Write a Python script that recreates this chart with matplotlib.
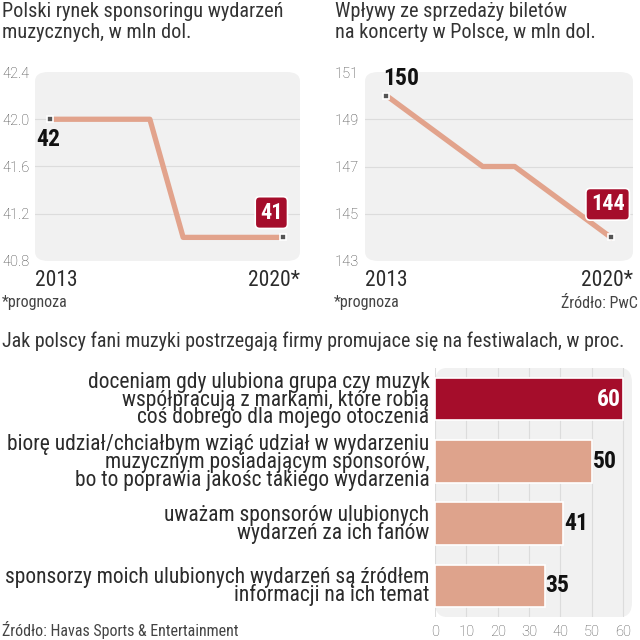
import matplotlib
matplotlib.use("Agg")
import matplotlib.pyplot as plt
from matplotlib.patches import FancyBboxPatch
import numpy as np

# data
years = [2013, 2014, 2015, 2016, 2017, 2018, 2019, 2020]
sponsoring = [42, 42, 42, 42, 41, 41, 41, 41]
tickets = [150, 149, 148, 147, 147, 146, 145, 144]

spons_ticks = [40.8, 41.2, 41.6, 42.0, 42.4]
ticket_ticks = [143, 145, 147, 149, 151]

bar_labels = [
    "doceniam gdy ulubiona grupa czy muzyk\nwspółpracują z markami, które robią\ncoś dobrego dla mojego otoczenia",
    "biorę udział/chciałbym wziąć udział w wydarzeniu\nmuzycznym posiadającym sponsorów,\nbo to poprawia jakośc takiego wydarzenia",
    "uważam sponsorów ulubionych\nwydarzeń za ich fanów",
    "sponsorzy moich ulubionych wydarzeń są źródłem\ninformacji na ich temat",
]
bar_values = [60, 50, 41, 35]
bar_ticks = [0, 10, 20, 30, 40, 50, 60]

RED = "#a50d2b"
SALMON = "#dea38c"
LINE = "#e2a38c"
BG = "#f1f1f1"
GRID = "#dcdcdc"
TXT = "#2b2b2b"

NARROW = ["Roboto Condensed", "DejaVu Sans"]
PLAIN = ["Roboto", "DejaVu Sans"]

fig = plt.figure(figsize=(6.4, 6.4), dpi=100)
W = H = 640.0


def ax_px(x0, y0, x1, y1):
    return fig.add_axes([x0 / W, 1 - y1 / H, (x1 - x0) / W, (y1 - y0) / H])


def rounded_bg(ax, r=0.05):
    bg = FancyBboxPatch((0, 0), 1, 1, boxstyle=f"round,pad=0,rounding_size={r}",
                        transform=ax.transAxes, facecolor=BG, edgecolor="none",
                        zorder=0, clip_on=False)
    ax.add_patch(bg)


def line_panel(box, values, ticks, title, xlim, lbl_x):
    ax = ax_px(*box)
    ax.set_facecolor("none")
    rounded_bg(ax)
    for t in ticks[1:-1]:
        ax.axhline(t, color=GRID, lw=0.8, zorder=1)
    ax.plot(years, values, color=LINE, lw=3.8, zorder=2)
    ax.plot([years[0], years[-1]], [values[0], values[-1]], ls="none", marker="s",
            ms=5, mfc="#555555", mec="white", mew=1.2, zorder=3)
    ax.set_xlim(*xlim)
    ax.set_ylim(ticks[0], ticks[-1])
    ax.set_yticks(ticks)
    ax.set_yticklabels([str(t) for t in ticks], fontsize=10.5, color="#444444",
                       family=PLAIN, fontweight="light")
    for lb in ax.get_yticklabels():
        lb.set_ha("left")
    ax.tick_params(axis="y", length=0, pad=(box[0] - lbl_x) * 0.72)
    ax.set_xticks([])
    for s in ax.spines.values():
        s.set_visible(False)
    ax.text(0, -0.045, "2013", transform=ax.transAxes, ha="left", va="top",
            fontsize=15.5, family=NARROW, color=TXT)
    ax.text(1, -0.045, "2020*", transform=ax.transAxes, ha="right", va="top",
            fontsize=15.5, family=NARROW, color=TXT)
    fig.text(lbl_x / W, 1 - 2 / H, title, ha="left", va="top", fontsize=14.6,
             family=NARROW, color="#333333", linespacing=1.15)
    return ax


# left line chart
ax1 = line_panel((35, 72, 300, 261), sponsoring, spons_ticks,
                 "Polski rynek sponsoringu wydarzeń\nmuzycznych, w mln dol.",
                 (2012.55, 2020.51), 2)
ax1.text(years[0] - 0.05, sponsoring[0] - 0.07, "42", ha="center", va="top", fontsize=17,
         fontweight="bold", family=NARROW, color="#111111")
ax1.text(years[-1] - 0.35, sponsoring[-1] + 0.21, "41", ha="center", va="center",
         fontsize=16, fontweight="bold", family=NARROW, color="white", zorder=5,
         bbox=dict(boxstyle="round,pad=0.22,rounding_size=0.2", fc=RED, ec="white", lw=1.2))

# right line chart
ax2 = line_panel((365, 72, 633, 261), tickets, ticket_ticks,
                 "Wpływy ze sprzedaży biletów\nna koncerty w Polsce, w mln dol.",
                 (2012.33, 2020.69), 335)
ax2.text(years[0] - 0.1, tickets[0] + 0.25, "150", ha="left", va="bottom", fontsize=17,
         fontweight="bold", family=NARROW, color="#111111")
ax2.text(years[-1] - 0.1, tickets[-1] + 1.4, "144", ha="center", va="center",
         fontsize=16, fontweight="bold", family=NARROW, color="white", zorder=5,
         bbox=dict(boxstyle="round,pad=0.22,rounding_size=0.2", fc=RED, ec="white", lw=1.2))

fig.text(2 / W, 1 - 303 / H, "*prognoza", ha="left", va="center", fontsize=11.5,
         family=NARROW, color="#444444")
fig.text(334 / W, 1 - 303 / H, "*prognoza", ha="left", va="center", fontsize=11.5,
         family=NARROW, color="#444444")
fig.text(638 / W, 1 - 303 / H, "Źródło: PwC", ha="right", va="center", fontsize=11.5,
         family=NARROW, color="#444444")

# bar chart
fig.text(2 / W, 1 - 341 / H,
         "Jak polscy fani muzyki postrzegają firmy promujace się na festiwalach, w proc.",
         ha="left", va="center", fontsize=14.4, family=NARROW, color="#333333")

ax3 = ax_px(435, 368, 632, 617)
ax3.set_facecolor("none")
rounded_bg(ax3, 0.06)
for t in bar_ticks:
    ax3.axvline(t, color=GRID, lw=0.8, zorder=1)
pos = np.arange(len(bar_values))
colors = [RED] + [SALMON] * (len(bar_values) - 1)
ax3.barh(pos, bar_values, height=0.68, color=colors, edgecolor="white",
         lw=1.2, zorder=2)
ax3.set_xlim(0, 62.9)
ax3.set_ylim(len(bar_values) - 0.5, -0.5)
for i, v in enumerate(bar_values):
    if i == 0:
        ax3.text(v - 0.8, i, str(v), ha="right", va="center", fontsize=17,
                 fontweight="bold", family=NARROW, color="white", zorder=3)
    else:
        ax3.text(v + 0.3, i, str(v), ha="left", va="center", fontsize=17,
                 fontweight="bold", family=NARROW, color="#111111", zorder=3)
ax3.set_yticks(pos)
ax3.set_yticklabels(bar_labels, fontsize=15.5, family=NARROW, color=TXT,
                    linespacing=0.8)
ax3.set_xticks(bar_ticks)
ax3.set_xticklabels([str(t) for t in bar_ticks], fontsize=10.5, family=PLAIN,
                    fontweight="light", color="#555555")
ax3.tick_params(length=0)
ax3.tick_params(axis="y", pad=4)
ax3.tick_params(axis="x", pad=6)
for s in ax3.spines.values():
    s.set_visible(False)

fig.text(2 / W, 1 - 630 / H, "Źródło: Havas Sports & Entertainment", ha="left",
         va="center", fontsize=11.5, family=NARROW, color="#444444")

fig.savefig("out.png", dpi=100)
